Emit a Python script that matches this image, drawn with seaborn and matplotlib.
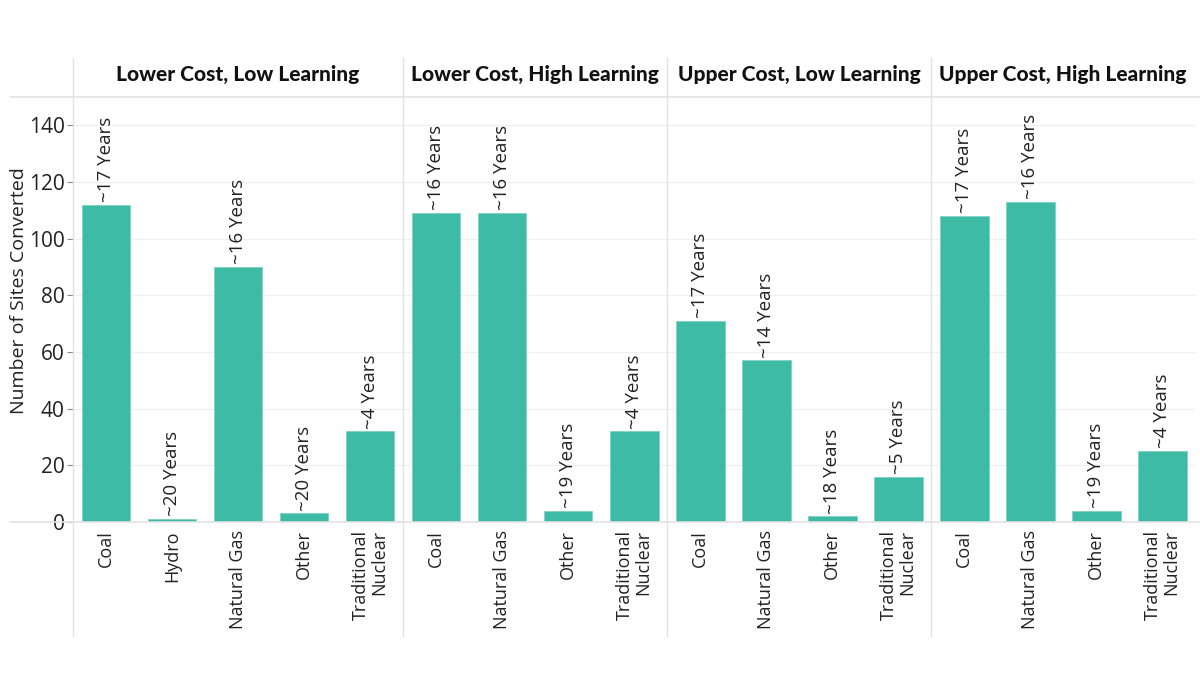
import numpy as np
import pandas as pd
import matplotlib.pyplot as plt
import seaborn as sns
from matplotlib.lines import Line2D

# scenario panels
scenarios = ['Lower Cost, Low Learning', 'Lower Cost, High Learning',
             'Upper Cost, Low Learning', 'Upper Cost, High Learning']

lower_low_types = ['Coal', 'Hydro', 'Natural Gas', 'Other', 'Traditional\nNuclear']
lower_low_sites = [112, 1, 90, 3, 32]
lower_low_years = ['~17 Years', '~20 Years', '~16 Years', '~20 Years', '~4 Years']

lower_high_types = ['Coal', 'Natural Gas', 'Other', 'Traditional\nNuclear']
lower_high_sites = [109, 109, 4, 32]
lower_high_years = ['~16 Years', '~16 Years', '~19 Years', '~4 Years']

upper_low_types = ['Coal', 'Natural Gas', 'Other', 'Traditional\nNuclear']
upper_low_sites = [71, 57, 2, 16]
upper_low_years = ['~17 Years', '~14 Years', '~18 Years', '~5 Years']

upper_high_types = ['Coal', 'Natural Gas', 'Other', 'Traditional\nNuclear']
upper_high_sites = [108, 113, 4, 25]
upper_high_years = ['~17 Years', '~16 Years', '~19 Years', '~4 Years']

y_ticks = [0, 20, 40, 60, 80, 100, 120, 140]

panels = [(lower_low_types, lower_low_sites, lower_low_years),
          (lower_high_types, lower_high_sites, lower_high_years),
          (upper_low_types, upper_low_sites, upper_low_years),
          (upper_high_types, upper_high_sites, upper_high_years)]

rows = []
for scen, (types, sites, years) in zip(scenarios, panels):
    for t, s, y in zip(types, sites, years):
        rows.append({'scenario': scen, 'type': t, 'sites': s, 'years': y})
df = pd.DataFrame(rows)

sns.set_theme(style='white')
plt.rcParams['font.family'] = ['Open Sans', 'DejaVu Sans']

TEAL = '#3dbba4'
LINE = '#e3e3e3'

fig = plt.figure(figsize=(12, 6.75), dpi=100)
gs = fig.add_gridspec(1, 4, width_ratios=[len(p[0]) for p in panels],
                      left=0.0608, right=0.996, bottom=0.2267, top=0.8563, wspace=0)

axes = []
for i, scen in enumerate(scenarios):
    ax = fig.add_subplot(gs[0, i])
    sub = df[df['scenario'] == scen]
    sns.barplot(data=sub, x='type', y='sites', color=TEAL, width=0.74,
                saturation=1, ax=ax, edgecolor='#7fd3c2', linewidth=0.6)
    ax.set_ylim(0, 150)
    ax.set_xlim(-0.5, len(sub) - 0.5)
    ax.set_yticks(y_ticks)
    ax.yaxis.grid(True, color='#f0f0f0', lw=1)
    ax.set_axisbelow(True)
    for sp in ax.spines.values():
        sp.set_visible(False)
    ax.bar_label(ax.containers[0], labels=list(sub['years']), rotation=90,
                 padding=2, fontsize=13.5, color='#222222')
    ax.set_xticks(range(len(sub)))
    ax.set_xticklabels(sub['type'], rotation=90, ha='center', va='top',
                       multialignment='right', fontsize=13, color='#222222',
                       linespacing=1.0)
    ax.tick_params(axis='x', length=0, pad=6)
    ax.set_xlabel('')
    if i == 0:
        ax.set_ylabel('Number of Sites Converted', fontsize=14, color='#222222')
        ax.yaxis.set_label_coords(-0.135, 0.545)
        ax.tick_params(axis='y', left=True, length=4, width=0.8, color='#888888',
                       labelsize=15, labelcolor='#222222', pad=2)
    else:
        ax.set_ylabel('')
        ax.tick_params(axis='y', left=False, labelleft=False)
    axes.append(ax)

    pos = ax.get_position()
    fig.text((pos.x0 + pos.x1) / 2, 0.889, scen, ha='center', va='center',
             fontsize=15, fontweight=900, family=['Lato', 'DejaVu Sans'],
             color='#111111')

# panel separators and header / baseline rules
for ax in axes:
    x0 = ax.get_position().x0
    fig.add_artist(Line2D([x0, x0], [0.0578, 0.914], color=LINE, lw=1,
                          transform=fig.transFigure))
fig.add_artist(Line2D([0.008, 1], [0.8563, 0.8563], color=LINE, lw=1.2,
                      transform=fig.transFigure))
fig.add_artist(Line2D([0.008, 1], [0.2267, 0.2267], color=LINE, lw=1.2,
                      transform=fig.transFigure))

fig.savefig('out.png', dpi=100, facecolor='white')
